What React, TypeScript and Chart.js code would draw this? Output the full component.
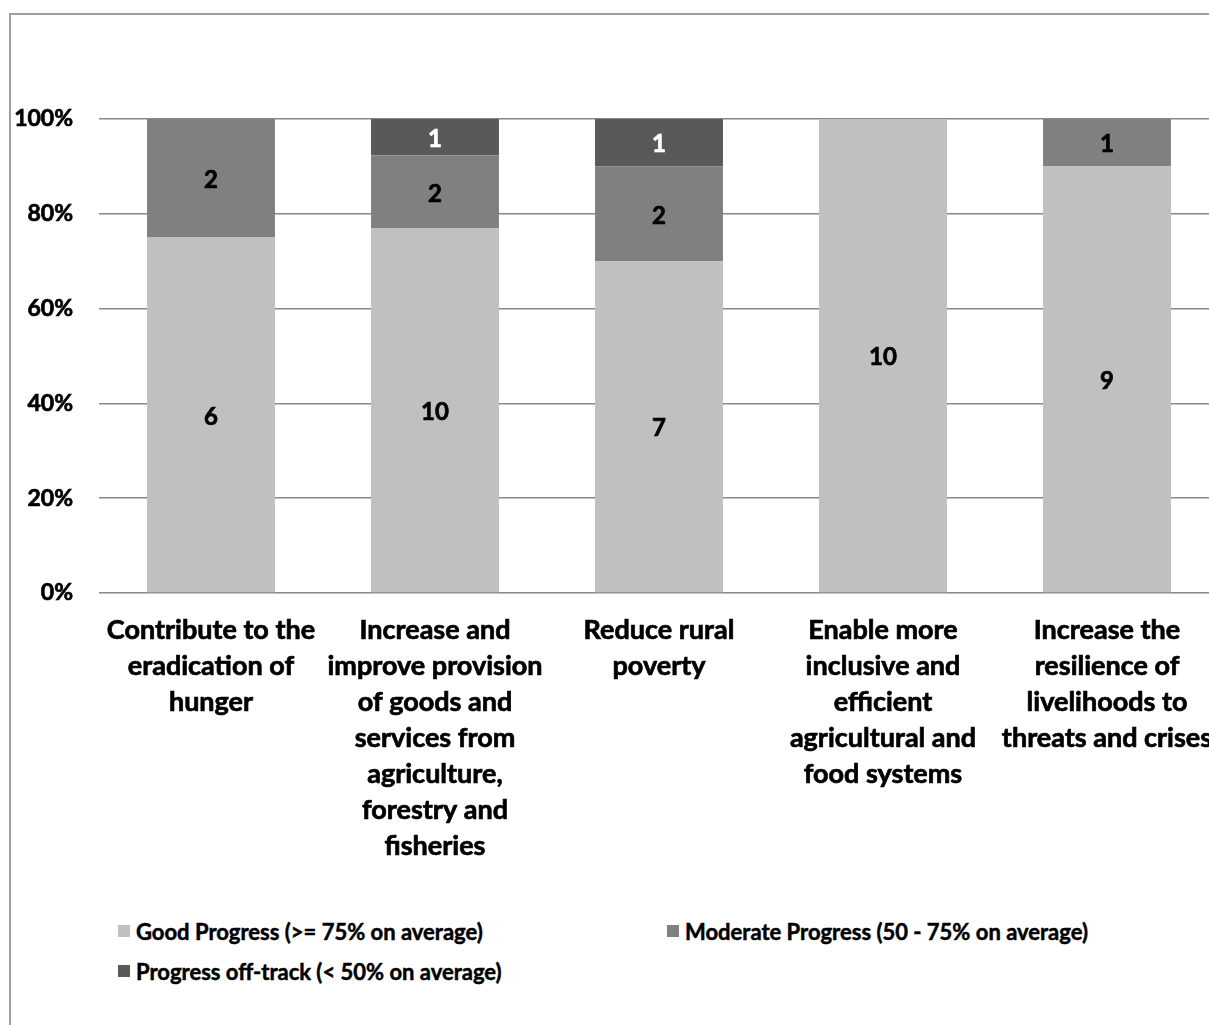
import React, { useEffect, useRef } from 'react';
import { Chart, registerables } from 'chart.js';

Chart.register(...registerables);

const categories: string[][] = [
  ['Contribute to the', 'eradication of', 'hunger'],
  ['Increase and', 'improve provision', 'of goods and', 'services from', 'agriculture,', 'forestry and', 'fisheries'],
  ['Reduce rural', 'poverty'],
  ['Enable more', 'inclusive and', 'efficient', 'agricultural and', 'food systems'],
  ['Increase the', 'resilience of', 'livelihoods to', 'threats and crises'],
];

const seriesNames = [
  'Good Progress (>= 75% on average)',
  'Moderate Progress (50 - 75% on average)',
  'Progress off-track (< 50% on average)',
];

const goodCounts = [6, 10, 7, 10, 9];
const moderateCounts = [2, 2, 2, 0, 1];
const offTrackCounts = [0, 1, 1, 0, 0];

const yTickLabels = ['0%', '20%', '40%', '60%', '80%', '100%'];

const seriesColors = ['#c0c0c0', '#808080', '#595959'];
const labelColors = ['#000000', '#000000', '#ffffff'];

const FONT = 'Lato, "Open Sans", sans-serif';
const WEIGHT = 'bold';
const STROKE = 0.7;

export default function App() {
  const canvasRef = useRef<HTMLCanvasElement | null>(null);

  useEffect(() => {
    const canvas = canvasRef.current;
    if (!canvas) return;
    const countSeries = [goodCounts, moderateCounts, offTrackCounts];
    const totals = goodCounts.map((_, i) => goodCounts[i] + moderateCounts[i] + offTrackCounts[i]);
    const shares = countSeries.map((s) => s.map((v, i) => v / totals[i]));

    const valueLabels = {
      id: 'valueLabels',
      afterDatasetsDraw(chart: any) {
        const ctx = chart.ctx;
        chart.data.datasets.forEach((_: any, di: number) => {
          const meta = chart.getDatasetMeta(di);
          meta.data.forEach((bar: any, i: number) => {
            const count = countSeries[di][i];
            if (!count) return;
            const p = bar.getProps(['x', 'y', 'base'], true);
            const ty = (p.y + p.base) / 2 + 2;
            ctx.save();
            ctx.fillStyle = labelColors[di];
            ctx.strokeStyle = labelColors[di];
            ctx.lineWidth = STROKE;
            ctx.font = `${WEIGHT} 24px ${FONT}`;
            ctx.textAlign = 'center';
            ctx.textBaseline = 'middle';
            ctx.strokeText(String(count), p.x, ty);
            ctx.fillText(String(count), p.x, ty);
            ctx.restore();
          });
        });
      },
    };

    const chart = new Chart(canvas, {
      type: 'bar',
      data: {
        labels: categories,
        datasets: seriesNames.map((name, di) => ({
          label: name,
          data: shares[di],
          backgroundColor: seriesColors[di],
          borderWidth: 0,
          barPercentage: 0.571,
          categoryPercentage: 1,
        })),
      },
      options: {
        responsive: false,
        animation: false,
        layout: { padding: { top: 119, right: 21, left: 0, bottom: 0 } },
        plugins: {
          legend: { display: false },
          tooltip: { enabled: false },
          title: { display: false },
        },
        scales: {
          x: {
            stacked: true,
            grid: { display: false, drawTicks: false },
            border: { display: false },
            ticks: {
              color: '#000',
              textStrokeColor: '#000',
              textStrokeWidth: STROKE,
              font: { family: FONT, size: 27, weight: WEIGHT, lineHeight: 36 / 27 },
              padding: 19,
              maxRotation: 0,
              autoSkip: false,
            },
            afterFit(scale: any) {
              scale.height = 900 - 593;
            },
          },
          y: {
            stacked: true,
            min: 0,
            max: 1,
            grid: { color: '#888888', lineWidth: 1.5, drawTicks: false },
            border: { display: false },
            ticks: {
              stepSize: 0.2,
              color: '#000',
              textStrokeColor: '#000',
              textStrokeWidth: STROKE,
              padding: 26,
              font: { family: FONT, size: 23, weight: WEIGHT },
              callback: (_v: any, idx: number) => yTickLabels[idx],
            },
            afterFit(scale: any) {
              scale.width = 99;
            },
          },
        },
      },
      plugins: [valueLabels],
    } as any);

    return () => chart.destroy();
  }, []);

  const legendItems = [
    { left: 118, top: 931, idx: 0 },
    { left: 667, top: 931, idx: 1 },
    { left: 118, top: 971, idx: 2 },
  ];

  return (
    <div
      style={{
        position: 'fixed',
        left: 0,
        top: 0,
        width: '100vw',
        height: '100vh',
        overflow: 'hidden',
        background: '#fff',
      }}
    >
      <div
        style={{
          position: 'absolute',
          left: 9,
          top: 13,
          width: 1400,
          height: 1200,
          border: '2px solid #a0a0a0',
          boxSizing: 'border-box',
        }}
      />
      <canvas ref={canvasRef} width={1240} height={900} style={{ position: 'absolute', left: 0, top: 0 }} />
      {legendItems.map((it) => (
        <div
          key={it.idx}
          style={{
            position: 'absolute',
            left: it.left,
            top: it.top - 15,
            height: 30,
            display: 'flex',
            alignItems: 'center',
            fontFamily: FONT,
            fontWeight: WEIGHT,
            fontSize: 22,
            color: '#000',
            whiteSpace: 'nowrap',
            WebkitTextStroke: '0.5px #000',
          }}
        >
          <span
            style={{
              display: 'inline-block',
              width: 12,
              height: 12,
              background: seriesColors[it.idx],
              marginRight: 6,
            }}
          />
          <span>{seriesNames[it.idx]}</span>
        </div>
      ))}
    </div>
  );
}
